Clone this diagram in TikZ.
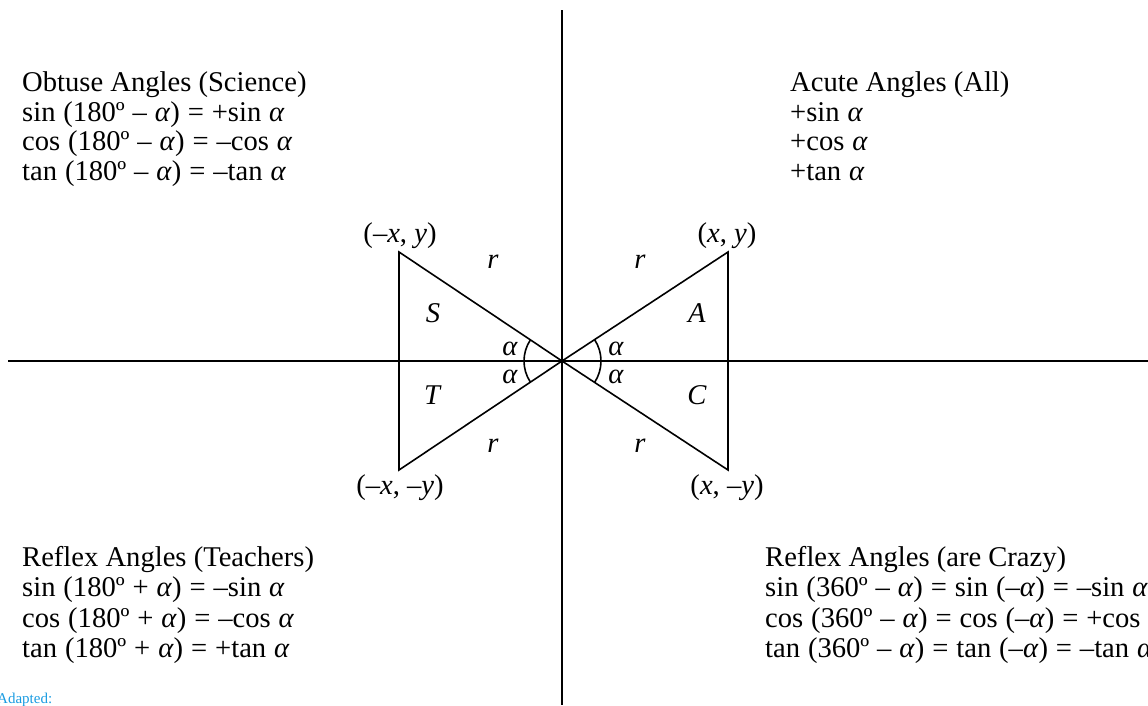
\documentclass[tikz,border=0pt]{standalone}
\usepackage{fontspec}
\setmainfont{Liberation Serif}
\definecolor{adaptblue}{RGB}{25,155,225}
\begin{document}
\begin{tikzpicture}[x=1pt,y=-1pt,
  txt/.style={anchor=base west,inner sep=0pt,font=\fontsize{28.6}{29.5}\selectfont},
  eqn/.style={txt,execute at begin node={\spaceskip=7.9pt\relax}},
  lbl/.style={inner sep=0pt,font=\fontsize{28.6}{29.5}\selectfont},
  ln/.style={line width=1.6pt,line join=miter}]
\useasboundingbox (0,0) rectangle (1148,705);
% coordinates
\coordinate (O) at (562,361);
\coordinate (vt) at (562,10);
\coordinate (vb) at (562,705);
\coordinate (hl) at (8,361);
\coordinate (hr) at (1148,361);
\coordinate (TL) at (399,252);
\coordinate (BL) at (399,470);
\coordinate (TR) at (728,252);
\coordinate (BR) at (728,470);
% axes
\draw[ln] (vt) -- (vb);
\draw[ln] (hl) -- (hr);
% triangles
\draw[ln] (TL) -- (O) -- (BL) -- cycle;
\draw[ln] (TR) -- (O) -- (BR) -- cycle;
% angle arcs
\draw[ln] (O) ++(146.4:38) arc[start angle=146.4,end angle=213.6,radius=38];
\draw[ln] (O) ++(-33.4:39) arc[start angle=-33.4,end angle=33.4,radius=39];
% vertex labels
\node[lbl,anchor=base] (lTL) at (400,242) {(–\textit{x}, \textit{y})};
\node[lbl,anchor=base] (lTR) at (727,242) {(\textit{x}, \textit{y})};
\node[lbl,anchor=base] (lBL) at (400,494) {(–\textit{x}, –\textit{y})};
\node[lbl,anchor=base] (lBR) at (727,494) {(\textit{x}, –\textit{y})};
% r labels
\node[lbl] (r1) at (493,262) {\textit{r}};
\node[lbl] (r2) at (640,262) {\textit{r}};
\node[lbl] (r3) at (493,446) {\textit{r}};
\node[lbl] (r4) at (640,446) {\textit{r}};
% quadrant letters
\node[lbl] (S) at (433,313) {\textit{S}};
\node[lbl] (A) at (697,313) {\textit{A}};
\node[lbl] (T) at (433,395) {\textit{T}};
\node[lbl] (C) at (697,395) {\textit{C}};
% alphas
\node[lbl] (a1) at (510,349) {\textit{α}};
\node[lbl] (a2) at (510,377) {\textit{α}};
\node[lbl] (a3) at (616,349) {\textit{α}};
\node[lbl] (a4) at (616,377) {\textit{α}};
% top-left block
\node[txt] (tl1) at (22,91.5) {Obtuse Angles (Science)};
\node[eqn] (tl2) at (22,121) {sin (180º – \textit{α}) = +sin \textit{α}};
\node[eqn] (tl3) at (22,150.5) {cos (180º – \textit{α}) = –cos \textit{α}};
\node[eqn] (tl4) at (22,180) {tan (180º – \textit{α}) = –tan \textit{α}};
% top-right block
\node[txt] (tr1) at (790,91.5) {Acute Angles (All)};
\node[eqn] (tr2) at (790,121) {+sin \textit{α}};
\node[eqn] (tr3) at (790,150.5) {+cos \textit{α}};
\node[eqn] (tr4) at (790,180) {+tan \textit{α}};
% bottom-left block
\node[txt] (bl1) at (22,566) {Reflex Angles (Teachers)};
\node[eqn] (bl2) at (22,596.5) {sin (180º + \textit{α}) = –sin \textit{α}};
\node[eqn] (bl3) at (22,627) {cos (180º + \textit{α}) = –cos \textit{α}};
\node[eqn] (bl4) at (22,657.5) {tan (180º + \textit{α}) = +tan \textit{α}};
% bottom-right block
\node[txt] (br1) at (765,566) {Reflex Angles (are Crazy)};
\node[eqn] (br2) at (765,596.5) {sin (360º – \textit{α}) = sin (–\textit{α}) = –sin \textit{α}};
\node[eqn] (br3) at (765,627) {cos (360º – \textit{α}) = cos (–\textit{α}) = +cos \textit{α}};
\node[eqn] (br4) at (765,657.5) {tan (360º – \textit{α}) = tan (–\textit{α}) = –tan \textit{α}};
% note
\node[anchor=base west,inner sep=0pt,text=adaptblue,font=\fontsize{15}{16}\selectfont] (note) at (-3,703) {Adapted:};
\end{tikzpicture}
\end{document}
